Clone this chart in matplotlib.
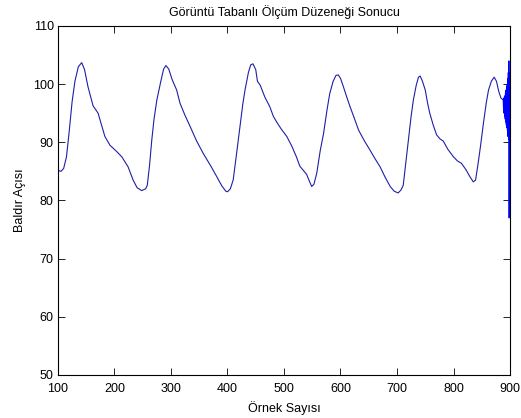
import matplotlib
matplotlib.use("Agg")
import matplotlib.pyplot as plt

plt.rcParams['font.family'] = ['Liberation Sans', 'DejaVu Sans']

# Sample index (Örnek Sayısı) and calf angle (Baldır Açısı)
samples = [100, 105, 110, 115, 120, 125, 130, 136, 142, 147, 153, 162, 171, 177, 183, 192, 203, 213,
           224, 233, 240, 248, 255, 258, 262, 266, 270, 275, 282, 287, 291, 296, 302, 310, 316, 325,
           334, 345, 357, 370, 381, 390, 397, 400, 405, 410, 416, 422, 427, 431, 437, 441, 445, 450,
           453, 458, 466, 475, 481, 487, 495, 505, 514, 522, 528, 534, 540, 545, 549, 553, 558, 564,
           570, 576, 581, 587, 592, 596, 600, 605, 611, 617, 625, 632, 642, 652, 661, 670, 679, 688,
           695, 702, 707, 711, 715, 720, 725, 729, 734, 738, 741, 745, 750, 754, 758, 764, 770, 776,
           782, 790, 800, 807, 814, 822, 829, 835, 839, 843, 848, 853, 858, 862, 867, 872, 876, 880,
           884, 888]
angles = [85.2, 85.0, 85.5, 87.5, 92.0, 97.0, 100.5, 103.0, 103.7, 102.5, 99.6, 96.3, 95.0, 93.0, 91.0,
          89.5, 88.5, 87.5, 85.8, 83.5, 82.2, 81.7, 82.0, 82.6, 86.0, 90.4, 94.0, 97.3, 100.5, 102.6,
          103.2, 102.6, 100.8, 99.0, 96.7, 94.6, 92.7, 90.3, 88.1, 86.0, 84.1, 82.5, 81.6, 81.5, 82.0,
          83.5, 88.0, 92.7, 96.5, 99.0, 102.0, 103.3, 103.5, 102.5, 100.5, 99.8, 97.8, 96.1, 94.5,
          93.5, 92.3, 91.0, 89.3, 87.5, 85.9, 85.2, 84.5, 83.3, 82.4, 82.8, 84.7, 88.5, 91.5, 95.5,
          98.4, 100.5, 101.5, 101.6, 101.0, 99.6, 97.8, 96.1, 94.0, 92.1, 90.3, 88.7, 87.2, 85.8,
          84.0, 82.4, 81.6, 81.3, 81.8, 82.6, 86.0, 90.4, 94.5, 97.3, 99.8, 101.2, 101.4, 100.5,
          99.0, 96.8, 95.0, 93.0, 91.3, 90.6, 90.2, 88.8, 87.5, 86.8, 86.4, 85.3, 84.1, 83.2, 83.5,
          86.0, 89.5, 93.3, 96.8, 99.0, 100.5, 101.2, 100.5, 98.8, 97.6, 97.3]

# Noisy tail at the end of the recording
tail_samples = [888, 888.5, 889, 889.5, 890, 890.5, 891, 891.5, 892, 892.5, 893, 893.5, 894, 894.5,
                895, 895.5, 896, 896.5, 897, 897.5, 898, 898.5, 899, 899.5, 900]
tail_angles = [97.3, 96.0, 97.5, 95.0, 97.8, 94.5, 98.0, 94.0, 98.5, 93.5, 99.0, 93.0, 99.5, 92.5,
               100.0, 92.0, 101.0, 91.0, 102.0, 90.5, 104.0, 77.0, 102.0, 90.0, 101.0]

x_ticks = [100, 200, 300, 400, 500, 600, 700, 800, 900]
y_ticks = [50, 60, 70, 80, 90, 100, 110]

fig = plt.figure(figsize=(5.21, 4.18), dpi=100)
ax = fig.add_axes([0.1113, 0.1029, 0.9789 - 0.1113, 0.9378 - 0.1029])

ax.plot(samples, angles, color='#1f1fa8', linewidth=0.8)
ax.plot(tail_samples, tail_angles, color='#0000ff', linewidth=0.8)

ax.set_xlim(100, 900)
ax.set_ylim(50, 110)
ax.set_xticks(x_ticks)
ax.set_yticks(y_ticks)
ax.tick_params(direction='in', length=5, width=0.6, top=True, right=True, labelsize=9)
ax.tick_params(axis='x', pad=6)
ax.tick_params(axis='y', pad=3)
for s in ax.spines.values():
    s.set_linewidth(0.8)

ax.set_title('Görüntü Tabanlı Ölçüm Düzeneği Sonucu', fontsize=9, pad=7)
ax.set_xlabel('Örnek Sayısı', fontsize=9, labelpad=4)
ax.set_ylabel('Baldır Açısı', fontsize=9, labelpad=5)

fig.savefig('out.png', dpi=100)
